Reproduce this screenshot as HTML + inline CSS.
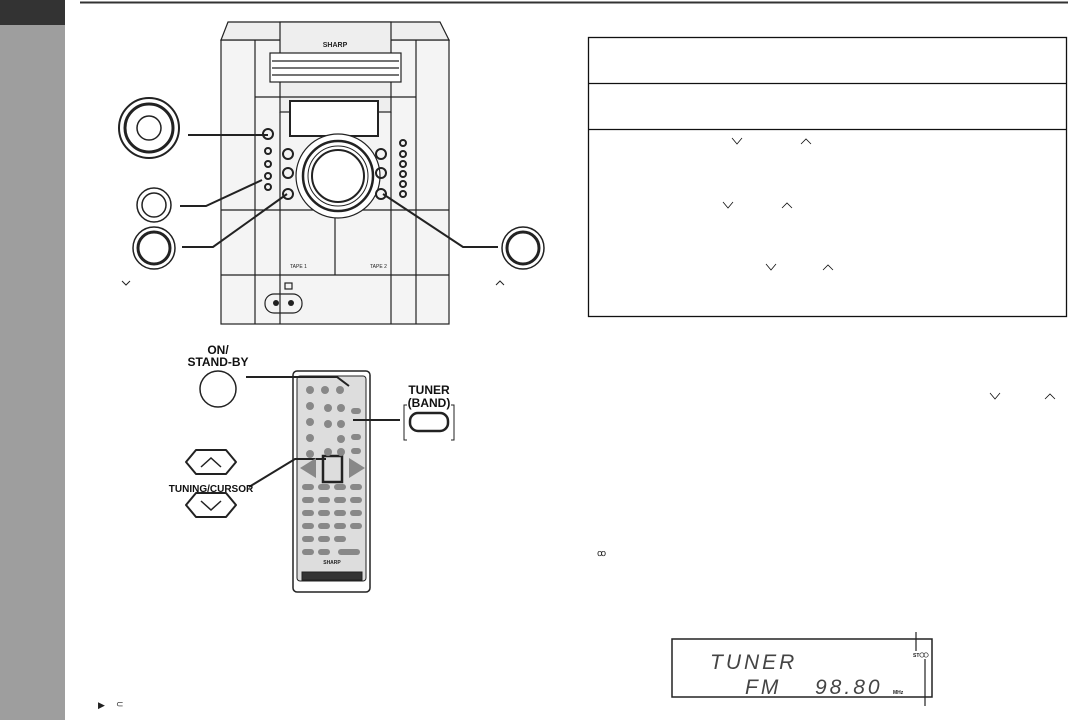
<!DOCTYPE html>
<html><head><meta charset="utf-8"><style>
html,body{margin:0;padding:0;background:#fff;}
svg{display:block;font-family:"Liberation Sans",sans-serif;}
</style></head><body>
<svg width="1068" height="720" viewBox="0 0 1068 720" xmlns="http://www.w3.org/2000/svg">
<rect x="0" y="0" width="65" height="720" fill="#9e9e9e"/>
<rect x="0" y="0" width="65" height="25" fill="#333"/>
<line x1="80" y1="2.5" x2="1068" y2="2.5" stroke="#333" stroke-width="2"/>

<!-- Main unit -->
<g fill="none" stroke="#222" stroke-width="1.2">
<rect x="221" y="40" width="228" height="284" fill="#f4f4f4"/>
<polygon points="228,22 440,22 449,40 221,40" fill="#eee"/>
<rect x="280" y="22" width="111" height="90" fill="#eee"/>
<line x1="255" y1="40" x2="255" y2="324"/><line x1="280" y1="112" x2="280" y2="324"/>
<line x1="391" y1="112" x2="391" y2="324"/><line x1="416" y1="40" x2="416" y2="324"/>
<line x1="221" y1="210" x2="449" y2="210"/><line x1="221" y1="275" x2="449" y2="275"/>
<line x1="335" y1="210" x2="335" y2="275"/>
<line x1="255" y1="97" x2="416" y2="97"/>
<rect x="270" y="53" width="131" height="29" fill="#fff"/>
<line x1="272" y1="61" x2="399" y2="61"/><line x1="272" y1="68" x2="399" y2="68"/><line x1="272" y1="75" x2="399" y2="75"/>
<rect x="290" y="101" width="88" height="35" fill="#fff" stroke-width="2"/>
<circle cx="338" cy="176" r="42" fill="#fff"/><circle cx="338" cy="176" r="35" stroke-width="2.5"/><circle cx="338" cy="176" r="30" stroke-width="1"/><circle cx="338" cy="176" r="26" fill="#fff" stroke-width="2"/>
<circle cx="268" cy="134" r="5" stroke-width="2"/>
<circle cx="288" cy="154" r="5" stroke-width="2"/><circle cx="288" cy="173" r="5" stroke-width="2"/><circle cx="288" cy="194" r="5" stroke-width="2"/>
<circle cx="381" cy="154" r="5" stroke-width="2"/><circle cx="381" cy="173" r="5" stroke-width="2"/><circle cx="381" cy="194" r="5" stroke-width="2"/>
<circle cx="268" cy="151" r="3" stroke-width="2"/><circle cx="268" cy="164" r="3" stroke-width="2"/><circle cx="268" cy="176" r="3" stroke-width="2"/><circle cx="268" cy="187" r="3" stroke-width="2"/>
<circle cx="403" cy="143" r="3" stroke-width="2"/><circle cx="403" cy="154" r="3" stroke-width="2"/><circle cx="403" cy="164" r="3" stroke-width="2"/><circle cx="403" cy="174" r="3" stroke-width="2"/><circle cx="403" cy="184" r="3" stroke-width="2"/><circle cx="403" cy="194" r="3" stroke-width="2"/>
<rect x="265" y="294" width="37" height="19" rx="9"/>
<rect x="285" y="283" width="7" height="6"/>
</g>
<circle cx="276" cy="303" r="3" fill="#222"/><circle cx="291" cy="303" r="3" fill="#222"/>
<text x="335" y="47" font-size="7" font-weight="bold" text-anchor="middle" fill="#222">SHARP</text>
<text x="290" y="268" font-size="5" fill="#222">TAPE 1</text><text x="370" y="268" font-size="5" fill="#222">TAPE 2</text>

<!-- callout knobs -->
<g fill="none" stroke="#222">
<circle cx="149" cy="128" r="30" stroke-width="2"/><circle cx="149" cy="128" r="24" stroke-width="3"/><circle cx="149" cy="128" r="12" stroke-width="1.5"/>
<circle cx="154" cy="205" r="17" stroke-width="1.5"/><circle cx="154" cy="205" r="12" stroke-width="1.5"/>
<circle cx="154" cy="248" r="21" stroke-width="1.5"/><circle cx="154" cy="248" r="16" stroke-width="3"/>
<circle cx="523" cy="248" r="21" stroke-width="1.5"/><circle cx="523" cy="248" r="16" stroke-width="3"/>
<polyline points="188,135 268,135" stroke-width="2"/>
<polyline points="180,206 206,206 262,180" stroke-width="2"/>
<polyline points="182,247 213,247 287,194" stroke-width="2"/>
<polyline points="498,247 463,247 383,194" stroke-width="2"/>
<polyline points="122,281 126,285 130,281" stroke-width="1"/>
<polyline points="496,285 500,281 504,285" stroke-width="1"/>
</g>

<!-- Table -->
<g fill="none" stroke="#111" stroke-width="1.3">
<rect x="588.5" y="37.5" width="478" height="279"/>
<line x1="588" y1="83.5" x2="1067" y2="83.5"/><line x1="588" y1="129.5" x2="1067" y2="129.5"/>
<g stroke-width="0.8"><polyline points="732,138 737,144 742,138"/><polyline points="801,144 806,139 811,144"/>
<polyline points="723,202 728,208 733,202"/><polyline points="782,208 787,203 792,208"/>
<polyline points="766,264 771,270 776,264"/><polyline points="823,270 828,265 833,270"/>
<polyline points="990,393 995,399 1000,393"/><polyline points="1045,399 1050,394 1055,399"/></g>
</g>

<!-- Remote -->
<g fill="none" stroke="#222">
<rect x="293" y="371" width="77" height="221" rx="4" stroke-width="1.5"/>
<rect x="297" y="376" width="69" height="205" rx="3" fill="#ddd" stroke-width="1"/>
<rect x="302" y="572" width="60" height="8" fill="#333"/>
<circle cx="218" cy="389" r="18" stroke-width="1.5"/>
<rect x="410" y="413" width="38" height="18" rx="8" stroke-width="2.5" fill="#fff"/>
<polyline points="407,405 404,405 404,440 407,440" stroke-width="1"/><polyline points="451,405 454,405 454,440 451,440" stroke-width="1"/>
<polygon points="186,462 196,450 226,450 236,462 226,474 196,474" stroke-width="2" fill="#fff" stroke-linejoin="round"/>
<polyline points="201,467 211,458 221,467" stroke-width="1.5"/>
<polygon points="186,505 196,493 226,493 236,505 226,517 196,517" stroke-width="2" fill="#fff" stroke-linejoin="round"/>
<polyline points="201,501 211,510 221,501" stroke-width="1.5"/>
<rect x="323" y="456" width="19" height="26" stroke-width="2.5"/>
<polyline points="246,377 337,377 349,386" stroke-width="2"/>
<line x1="353" y1="420" x2="400" y2="420" stroke-width="2"/>
<polyline points="249,487 295,459 326,459" stroke-width="2"/>
</g>
<g fill="#888">
<circle cx="310" cy="390" r="4"/><circle cx="325" cy="390" r="4"/><circle cx="340" cy="390" r="4"/>
<circle cx="310" cy="406" r="4"/><circle cx="310" cy="422" r="4"/><circle cx="310" cy="438" r="4"/><circle cx="310" cy="454" r="4"/>
<circle cx="328" cy="408" r="4"/><circle cx="341" cy="408" r="4"/><circle cx="328" cy="424" r="4"/><circle cx="341" cy="424" r="4"/>
<circle cx="341" cy="439" r="4"/><circle cx="328" cy="452" r="4"/><circle cx="341" cy="452" r="4"/>
<rect x="351" y="408" width="10" height="6" rx="3"/><rect x="351" y="434" width="10" height="6" rx="3"/><rect x="351" y="448" width="10" height="6" rx="3"/>
<rect x="302" y="484" width="12" height="6" rx="3"/><rect x="318" y="484" width="12" height="6" rx="3"/><rect x="334" y="484" width="12" height="6" rx="3"/><rect x="350" y="484" width="12" height="6" rx="3"/>
<rect x="302" y="497" width="12" height="6" rx="3"/><rect x="318" y="497" width="12" height="6" rx="3"/><rect x="334" y="497" width="12" height="6" rx="3"/><rect x="350" y="497" width="12" height="6" rx="3"/>
<rect x="302" y="510" width="12" height="6" rx="3"/><rect x="318" y="510" width="12" height="6" rx="3"/><rect x="334" y="510" width="12" height="6" rx="3"/><rect x="350" y="510" width="12" height="6" rx="3"/>
<rect x="302" y="523" width="12" height="6" rx="3"/><rect x="318" y="523" width="12" height="6" rx="3"/><rect x="334" y="523" width="12" height="6" rx="3"/><rect x="350" y="523" width="12" height="6" rx="3"/>
<rect x="302" y="536" width="12" height="6" rx="3"/><rect x="318" y="536" width="12" height="6" rx="3"/><rect x="334" y="536" width="12" height="6" rx="3"/>
<rect x="302" y="549" width="12" height="6" rx="3"/><rect x="318" y="549" width="12" height="6" rx="3"/><rect x="338" y="549" width="22" height="6" rx="3"/>
<polygon points="300,468 316,458 316,478"/><polygon points="365,468 349,458 349,478"/>
</g>
<text x="332" y="564" font-size="5" font-weight="bold" text-anchor="middle" fill="#222">SHARP</text>
<g font-size="12" font-weight="bold" fill="#111" text-anchor="middle">
<text x="218" y="354">ON/</text><text x="218" y="366">STAND-BY</text>
<text x="429" y="394">TUNER</text><text x="429" y="407">(BAND)</text>
</g>
<text x="211" y="492" font-size="10" font-weight="bold" text-anchor="middle" fill="#111">TUNING/CURSOR</text>

<!-- small glyphs -->
<text x="98" y="708" font-size="9" fill="#222">▶</text><text x="116" y="707" font-size="9" fill="#222">⊂</text>
<text x="597" y="556" font-size="9" fill="#222">ꝏ</text>

<!-- display -->
<rect x="672" y="639" width="260" height="58" fill="none" stroke="#222" stroke-width="1.5"/>
<g font-style="italic" font-size="21" fill="#444" letter-spacing="3">
<text x="710" y="669">TUNER</text><text x="745" y="694">FM</text><text x="815" y="694">98.80</text>
</g>
<text x="893" y="694" font-size="5" font-weight="bold" fill="#222">MHz</text>
<text x="913" y="657" font-size="5" font-weight="bold" fill="#222">ST</text>
<circle cx="922" cy="655" r="2.2" fill="none" stroke="#222" stroke-width="0.7"/><circle cx="926" cy="655" r="2.2" fill="none" stroke="#222" stroke-width="0.7"/>
<line x1="916" y1="632" x2="916" y2="651" stroke="#222" stroke-width="1.2"/>
<line x1="925" y1="659" x2="925" y2="706" stroke="#222" stroke-width="1.2"/>
</svg>
</body></html>
